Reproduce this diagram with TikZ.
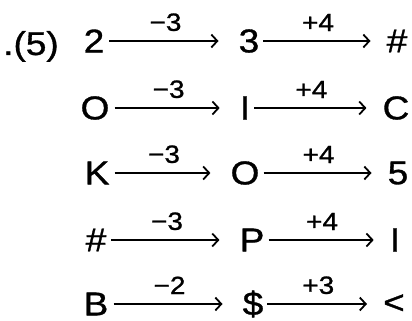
\documentclass[tikz,border=0pt]{standalone}
\usepackage{fontspec}
\setmainfont{Liberation Sans}[FakeStretch=1.12,FakeBold=1]
\usetikzlibrary{arrows.meta}
\begin{document}
\begin{tikzpicture}[x=1pt,y=-1pt,
  sym/.style={inner sep=0pt,font=\fontsize{33}{38}\selectfont},
  lbl/.style={inner sep=0pt,anchor=south,font=\fontsize{25}{29}\selectfont},
  arr/.style={line width=1.8pt,-{Straight Barb[length=6pt,width=13pt,line width=1.8pt]}}]
\useasboundingbox (0,0) rectangle (412,321);
\node[inner sep=0pt,anchor=base,font=\fontsize{33}{38}\selectfont] (num) at (31,55) {.(5)};
% row 1
\node[sym] (a1) at (94,41) {2};
\node[sym] (b1) at (249,41) {3};
\node[sym] (c1) at (397,41) {\#};
% row 2
\node[sym] (a2) at (95,108) {O};
\node[sym] (b2) at (245,108) {I};
\node[sym] (c2) at (396,108) {C};
% row 3
\node[sym] (a3) at (97,173) {K};
\node[sym] (b3) at (245,173) {O};
\node[sym] (c3) at (398,173) {5};
% row 4
\node[sym] (a4) at (96,240) {\#};
\node[sym] (b4) at (252,240) {P};
\node[sym] (c4) at (395,240) {I};
% row 5
\node[sym] (a5) at (96,304) {B};
\node[sym] (b5) at (253,304) {\$};
\node[sym] (c5) at (394,304) {<};
\foreach \r/\p/\q in {1/−3/+4,2/−3/+4,3/−3/+4,4/−3/+4,5/−2/+3}{
  \draw[arr,shorten <=5pt,shorten >=20pt] (a\r.east) -- (b\r.west)
     node[lbl,midway,above=9pt,xshift=-6pt] {\p};
  \draw[arr,shorten <=4pt,shorten >=16pt] (b\r.east) -- (c\r.west)
     node[lbl,midway,above=9pt,xshift=-5pt] {\q};
}
\end{tikzpicture}
\end{document}
